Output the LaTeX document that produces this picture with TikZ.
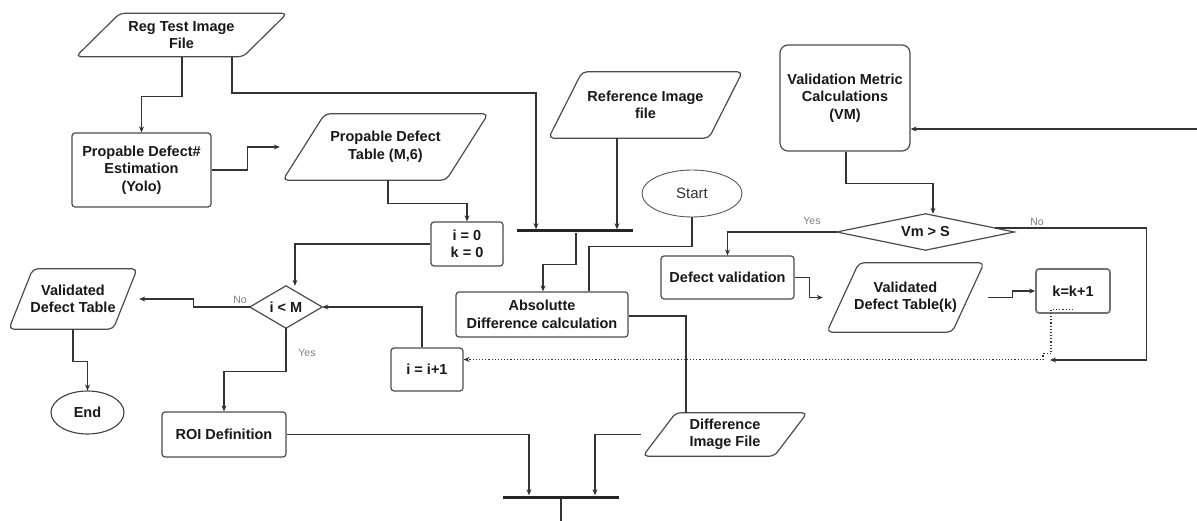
\documentclass[tikz,border=0pt]{standalone}
\usepackage{fontspec}
\setmainfont{Liberation Sans}
\usetikzlibrary{arrows.meta,shapes.geometric}

% outline of an input/output parallelogram around a text node (#2 = half slant)
\newcommand\ioframe[2]{%
  \draw[frame, rounded corners=5pt]
    ([xshift=-#2]#1.south west) -- ([xshift=#2]#1.north west) --
    ([xshift=#2]#1.north east) -- ([xshift=-#2]#1.south east) -- cycle;}
% outline of a decision diamond around a text node
\newcommand\dmframe[1]{%
  \draw[frame] (#1.west) -- (#1.north) -- (#1.east) -- (#1.south) -- cycle;}

\begin{document}
\begin{tikzpicture}[x=1pt,y=-1pt,
  font=\fontsize{14.5}{17.5}\selectfont\bfseries,
  frame/.style={draw=black!70, line width=1.2pt},
  line/.style={draw=black!80, line width=1.15pt},
  conn/.style={line, -{Stealth[length=6pt,width=5pt]}},
  dotconn/.style={line, dotted, -{Stealth[length=6pt,width=5pt]}},
  box/.style={frame, rounded corners=3pt, align=center, inner sep=0pt, text=black!90},
  io/.style={align=center, inner sep=0pt, text=black!90},
  term/.style={ellipse, draw=black!65, line width=0.9pt, inner sep=0pt, text=black!80},
  bar/.style={fill=black!85, inner sep=0pt, minimum height=3pt},
  lbl/.style={font=\fontsize{10.5}{12}\selectfont, text=black!50}
]
\useasboundingbox (0,0) rectangle (1197,521);
\fill[white] (0,0) rectangle (1197,521);

% ---- nodes ----
\node[io, minimum width=167pt, minimum height=43pt] (rt) at (181.5,35) {Reg Test Image\\File};
\ioframe{rt}{22pt}
\node[box, minimum width=139pt, minimum height=74pt] (yolo) at (141.5,170) {Propable Defect\#\\Estimation\\(Yolo)};
\node[io, minimum width=163pt, minimum height=66pt] (pdt) at (385.5,147) {Propable Defect\\Table (M,6)};
\ioframe{pdt}{21pt}
\node[io, minimum width=160pt, minimum height=66pt] (ref) at (645.5,105) {Reference Image\\file};
\ioframe{ref}{16.75pt}
\node[box, minimum width=72pt, minimum height=44pt] (i0) at (467,244) {i = 0\\k = 0};
\node[bar, minimum width=116pt] (bar1) at (575,231) {};
\node[box, minimum width=172pt, minimum height=45pt] (abs) at (542,314.5) {Absolutte\\Difference calculation};
\node[term, minimum width=100pt, minimum height=47pt, font=\fontsize{15}{18}\selectfont] (start) at (692,193.5) {Start};
\node[box, minimum width=133pt, minimum height=43pt] (dv) at (727.5,277.5) {Defect validation};
\node[box, rounded corners=8pt, minimum width=130pt, minimum height=106pt] (vm) at (845,98) {Validation Metric\\Calculations\\(VM)};
\node[io, minimum width=177pt, minimum height=36pt] (vms) at (925.5,232) {Vm \textgreater{} S};
\dmframe{vms}
\node[io, minimum width=125pt, minimum height=69pt] (vdtk) at (905.5,297.5) {Validated\\Defect Table(k)};
\ioframe{vdtk}{16pt}
\node[box, draw=black!55, line width=1.7pt, minimum width=74pt, minimum height=44pt] (kk) at (1073,291) {k=k+1};
\node[io, minimum width=72pt, minimum height=42pt] (ilm) at (286,307) {i \textless{} M};
\dmframe{ilm}
\node[io, minimum width=104pt, minimum height=60pt] (vdt) at (73,299) {Validated\\Defect Table};
\ioframe{vdt}{12pt}
\node[term, draw=black!75, line width=1.1pt, minimum width=73pt, minimum height=43pt, text=black!90] (end) at (87.5,412.5) {End};
\node[box, minimum width=124pt, minimum height=45pt] (roi) at (224,434.5) {ROI Definition};
\node[box, minimum width=72pt, minimum height=43pt] (i1) at (427,369.5) {i = i+1};
\node[io, minimum width=131pt, minimum height=43pt] (diff) at (725,434.5) {Difference\\Image File};
\ioframe{diff}{16.5pt}
\node[bar, minimum width=116pt] (bar2) at (561,497) {};

\coordinate (edgeR) at (1197,129);
\coordinate (edgeB) at (561,521);
\coordinate (nend) at (1050,360);

% ---- connectors ----
\draw[conn] ([xshift=0.5pt]rt.south) -- ++(0,39.5) -| (yolo.north);
\draw[conn] ([xshift=50.5pt]rt.south) |- (536,93) -- ([xshift=-39pt]bar1.north);
\draw[conn] (yolo.east) -- ++(36,0) |- ([xshift=-24pt]pdt.west);
\draw[conn] ([xshift=2.5pt]pdt.south) -- ++(0,23) -| (i0.north);
\draw[conn] ([xshift=-28.5pt]ref.south) -- ([xshift=42pt]bar1.north);
\draw[conn] ([xshift=1pt]bar1.south) -- ++(0,31.5) -| ([xshift=1pt]abs.north);
\draw[line] (start.south) -- ++(0,29) -| ([xshift=47pt]abs.north);
\draw[conn] (i0.west) -| ([xshift=9pt]ilm.north);
\draw[conn] ([xshift=1pt]vm.south) -- ++(0,32) -| ([xshift=7.5pt]vms.north);
\draw[conn] (edgeR) -- (vm.east |- edgeR);
\draw[conn] (vms.west) -| (dv.north);
\node[lbl] at (812,221) {Yes};
\draw[conn] ([xshift=-19.7pt,yshift=4pt]vms.east) -- ++(151.7,0) |- (nend);
\node[lbl] at (1037,222) {No};
\draw[conn] (dv.east) -- ++(15,0) |- ([xshift=-20pt]vdtk.west);
\draw[conn] ([xshift=20pt]vdtk.east) -- ++(24,0) |- (kk.west);
\draw[dotconn] ([yshift=4pt]kk.south) -- ++(-22,0) -- ++(0,44) -- ++(-8,0) |- ([yshift=10pt]i1.east);
\draw[conn] ([xshift=-5pt]i1.north) |- (ilm.east);
\draw[conn] (ilm.west) -- ++(-56,0) |- ([xshift=14pt]vdt.east);
\node[lbl] at (240,300) {No};
\draw[conn] (ilm.south) -- ++(0,43) -| (roi.north);
\node[lbl] at (307,353) {Yes};
\draw[conn] (vdt.south) -- ++(0,32) -| (end.north);
\draw[conn] (roi.east) -| ([xshift=-32pt]bar2.north);
\draw[conn] ([xshift=-18.5pt]diff.west) -| ([xshift=34pt]bar2.north);
\draw[line] ([yshift=-1.5pt]abs.east) -| ([xshift=-39pt]diff.north);
\draw[line] (bar2.south) -- (edgeB);
\end{tikzpicture}
\end{document}
